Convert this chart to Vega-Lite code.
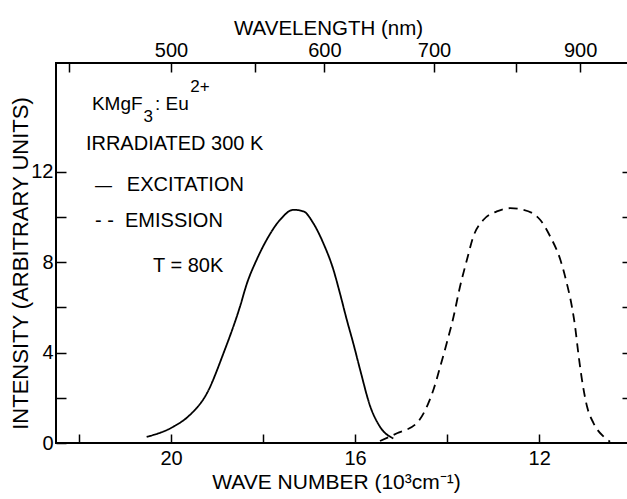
{
  "$schema": "https://vega.github.io/schema/vega-lite/v6.json",
  "width": 572,
  "height": 380,
  "autosize": {"type": "none"},
  "padding": {"left": 56, "top": 63, "right": 0, "bottom": 56},
  "background": "white",
  "config": {
    "font": "Liberation Sans",
    "view": {"stroke": "black", "strokeWidth": 2},
    "axis": {
      "domain": false, "grid": false, "tickColor": "black", "tickWidth": 1.5,
      "labelColor": "black", "titleColor": "black", "labelFont": "Liberation Sans",
      "titleFont": "Liberation Sans", "labelFontSize": 20, "titleFontWeight": "normal",
      "titleFontSize": 21, "tickSize": -9
    }
  },
  "datasets": {
    "curves": [
      {"series": "Excitation", "wn": 20.53, "I": 0.27},
      {"series": "Excitation", "wn": 19.95, "I": 0.72},
      {"series": "Excitation", "wn": 19.59, "I": 1.24},
      {"series": "Excitation", "wn": 19.22, "I": 2.2},
      {"series": "Excitation", "wn": 18.86, "I": 3.97},
      {"series": "Excitation", "wn": 18.5, "I": 6.04},
      {"series": "Excitation", "wn": 18.35, "I": 7.06},
      {"series": "Excitation", "wn": 18.14, "I": 8.1},
      {"series": "Excitation", "wn": 17.92, "I": 8.99},
      {"series": "Excitation", "wn": 17.63, "I": 9.87},
      {"series": "Excitation", "wn": 17.34, "I": 10.31},
      {"series": "Excitation", "wn": 17.12, "I": 10.24},
      {"series": "Excitation", "wn": 16.91, "I": 9.72},
      {"series": "Excitation", "wn": 16.69, "I": 8.83},
      {"series": "Excitation", "wn": 16.47, "I": 7.65},
      {"series": "Excitation", "wn": 16.33, "I": 6.62},
      {"series": "Excitation", "wn": 16.18, "I": 5.44},
      {"series": "Excitation", "wn": 16.04, "I": 4.41},
      {"series": "Excitation", "wn": 15.89, "I": 3.23},
      {"series": "Excitation", "wn": 15.67, "I": 1.61},
      {"series": "Excitation", "wn": 15.46, "I": 0.72},
      {"series": "Excitation", "wn": 15.17, "I": 0.2},
      {"series": "Emission", "wn": 15.46, "I": 0.09},
      {"series": "Emission", "wn": 15.09, "I": 0.43},
      {"series": "Emission", "wn": 14.66, "I": 0.88},
      {"series": "Emission", "wn": 14.41, "I": 1.75},
      {"series": "Emission", "wn": 14.3, "I": 2.34},
      {"series": "Emission", "wn": 14.15, "I": 3.38},
      {"series": "Emission", "wn": 14.01, "I": 4.41},
      {"series": "Emission", "wn": 13.86, "I": 5.59},
      {"series": "Emission", "wn": 13.72, "I": 6.92},
      {"series": "Emission", "wn": 13.57, "I": 8.1},
      {"series": "Emission", "wn": 13.43, "I": 9.13},
      {"series": "Emission", "wn": 13.21, "I": 9.87},
      {"series": "Emission", "wn": 12.92, "I": 10.24},
      {"series": "Emission", "wn": 12.63, "I": 10.38},
      {"series": "Emission", "wn": 12.34, "I": 10.31},
      {"series": "Emission", "wn": 11.98, "I": 9.87},
      {"series": "Emission", "wn": 11.76, "I": 9.13},
      {"series": "Emission", "wn": 11.54, "I": 8.1},
      {"series": "Emission", "wn": 11.4, "I": 7.06},
      {"series": "Emission", "wn": 11.29, "I": 6.04},
      {"series": "Emission", "wn": 11.22, "I": 5.15},
      {"series": "Emission", "wn": 11.15, "I": 3.97},
      {"series": "Emission", "wn": 11.07, "I": 2.79},
      {"series": "Emission", "wn": 10.96, "I": 1.61},
      {"series": "Emission", "wn": 10.82, "I": 0.88},
      {"series": "Emission", "wn": 10.6, "I": 0.28},
      {"series": "Emission", "wn": 10.46, "I": 0.06}
    ],
    "notes": [
      {"label": "IRRADIATED  300 K", "wn": 21.85, "I": 12.96},
      {"label": "EXCITATION", "wn": 20.96, "I": 11.16},
      {"label": "- -", "wn": 21.65, "I": 9.57},
      {"label": "EMISSION", "wn": 21.0, "I": 9.57},
      {"label": "T = 80K", "wn": 20.39, "I": 7.58}
    ],
    "formula": [
      {"label": "KMgF", "wn": 21.72, "I": 14.73},
      {"label": ": Eu", "wn": 20.35, "I": 14.73}
    ],
    "small": [
      {"label": "3", "wn": 20.6, "I": 14.2},
      {"label": "2+", "wn": 19.58, "I": 15.53},
      {"label": "—", "wn": 21.65, "I": 11.16}
    ]
  },
  "layer": [
    {
      "data": {"name": "curves"},
      "mark": {"type": "line", "color": "black", "strokeWidth": 1.8, "interpolate": "monotone"},
      "encoding": {
        "x": {
          "field": "wn", "type": "quantitative",
          "scale": {"domain": [22.5, 10.07], "nice": false, "zero": false},
          "axis": {
            "orient": "bottom", "values": [22, 20, 18, 16, 14, 12],
            "labelExpr": "datum.value % 4 == 0 ? datum.label : ''",
            "labelPadding": 14, "tickSize": -9,
            "title": "WAVE NUMBER (10³cm⁻¹)", "titleFontSize": 21,
            "titleX": 280, "titleY": 45, "titleBaseline": "alphabetic"
          }
        },
        "y": {
          "field": "I", "type": "quantitative",
          "scale": {"domain": [0, 16.8], "nice": false, "zero": false},
          "axis": {
            "orient": "left", "values": [0, 2, 4, 6, 8, 10, 12],
            "labelExpr": "datum.value % 4 == 0 ? datum.label : ''",
            "labelPadding": 13, "tickSize": -10,
            "title": "INTENSITY (ARBITRARY UNITS)", "titleFontSize": 22,
            "titleX": -29, "titleY": 200, "titleBaseline": "alphabetic", "titleAngle": -90
          }
        },
        "strokeDash": {
          "field": "series", "type": "nominal", "legend": null,
          "scale": {"domain": ["Excitation", "Emission"], "range": [[1, 0], [9, 6]]}
        }
      }
    },
    {
      "data": {"name": "curves"},
      "mark": {"type": "point", "opacity": 0},
      "encoding": {
        "x": {
          "field": "wn", "type": "quantitative",
          "scale": {"domain": [22.5, 10.07], "nice": false, "zero": false},
          "axis": {
            "orient": "top", "values": [22.2222, 20, 18.1818, 16.6667, 14.2857, 12.5, 11.1111],
            "labelExpr": "(round(10000/datum.value) == 500 || round(10000/datum.value) == 600 || round(10000/datum.value) == 700 || round(10000/datum.value) == 900) ? '' + round(10000/datum.value) : ''",
            "labelPadding": 12, "tickSize": -9,
            "title": "WAVELENGTH (nm)", "titleFontSize": 20.5,
            "titleX": 272, "titleY": -29, "titleBaseline": "alphabetic"
          }
        },
        "y": {
          "field": "I", "type": "quantitative",
          "scale": {"domain": [0, 16.8], "nice": false, "zero": false},
          "axis": {
            "orient": "right", "values": [2, 4, 6, 8, 10, 12],
            "labels": false, "tickSize": -6, "title": null
          }
        }
      }
    },
    {
      "data": {"name": "notes"},
      "mark": {"type": "text", "align": "left", "baseline": "alphabetic", "fontSize": 20, "color": "black", "font": "Liberation Sans"},
      "encoding": {
        "x": {"field": "wn", "type": "quantitative", "scale": {"domain": [22.5, 10.07], "nice": false, "zero": false}, "axis": null},
        "y": {"field": "I", "type": "quantitative", "scale": {"domain": [0, 16.8], "nice": false, "zero": false}, "axis": null},
        "text": {"field": "label"}
      }
    },
    {
      "data": {"name": "formula"},
      "mark": {"type": "text", "align": "left", "baseline": "alphabetic", "fontSize": 19, "color": "black", "font": "Liberation Sans"},
      "encoding": {
        "x": {"field": "wn", "type": "quantitative", "scale": {"domain": [22.5, 10.07], "nice": false, "zero": false}, "axis": null},
        "y": {"field": "I", "type": "quantitative", "scale": {"domain": [0, 16.8], "nice": false, "zero": false}, "axis": null},
        "text": {"field": "label"}
      }
    },
    {
      "data": {"name": "small"},
      "mark": {"type": "text", "align": "left", "baseline": "alphabetic", "fontSize": 17, "color": "black", "font": "Liberation Sans"},
      "encoding": {
        "x": {"field": "wn", "type": "quantitative", "scale": {"domain": [22.5, 10.07], "nice": false, "zero": false}, "axis": null},
        "y": {"field": "I", "type": "quantitative", "scale": {"domain": [0, 16.8], "nice": false, "zero": false}, "axis": null},
        "text": {"field": "label"}
      }
    }
  ],
  "resolve": {"axis": {"x": "independent", "y": "independent"}}
}
